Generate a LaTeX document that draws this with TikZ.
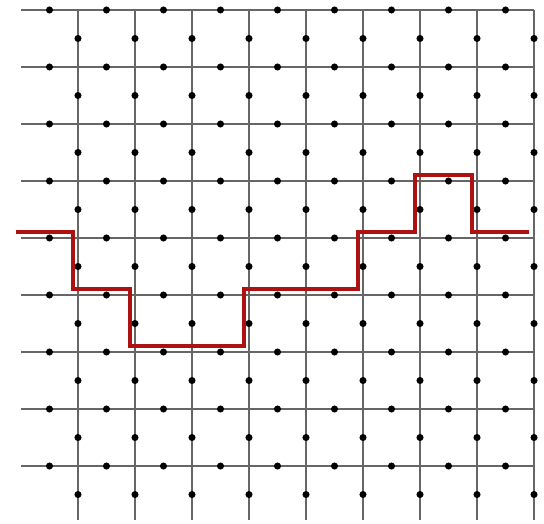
\documentclass[tikz,border=0pt]{standalone}
\definecolor{pathred}{RGB}{172,18,18}
\begin{document}
\begin{tikzpicture}[x=1cm,y=-1cm,
  gridline/.style={draw=black!60, line width=0.55pt},
  latticedot/.style={fill=black},
  redpath/.style={draw=pathred, line width=2.1pt}]
\useasboundingbox (-1.368,-0.175) rectangle (8.175,9.0);
\foreach \j in {0,...,8} \draw[gridline] (-1,\j) -- (8,\j);
\foreach \i in {0,...,8} \draw[gridline] (\i,0) -- (\i,8.95);
\foreach \j in {0,...,8} \foreach \i in {-0.5,0.5,...,7.5} \fill[latticedot] (\i,\j) circle (0.062);
\foreach \i in {0,...,8} \foreach \j in {0.5,1.5,...,8.5} \fill[latticedot] (\i,\j) circle (0.062);
\draw[redpath, shift={(-0.09,-0.1)}] (-1,4) -| (0,5) -| (1,6) -| (3,5) -| (5,4) -| (6,3) -| (7,4) -- (8,4);
\end{tikzpicture}
\end{document}
